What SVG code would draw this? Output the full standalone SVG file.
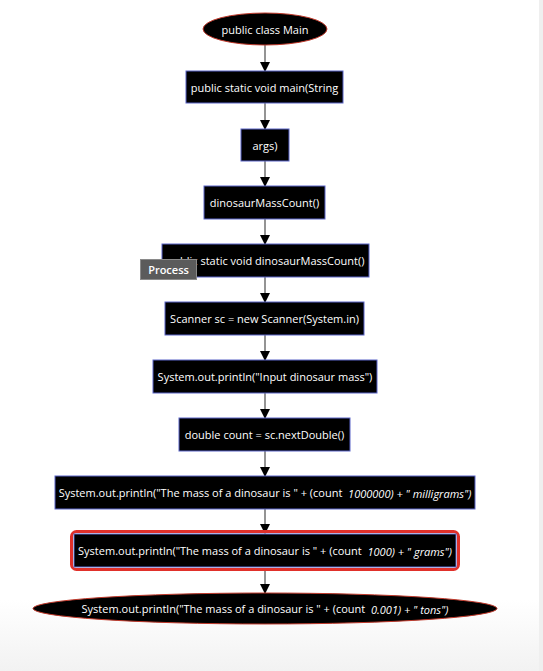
<svg xmlns="http://www.w3.org/2000/svg" width="543" height="671" viewBox="0 0 543 671">
<defs>
<marker id="ah" markerWidth="10" markerHeight="10" refX="9" refY="5" orient="auto" markerUnits="userSpaceOnUse">
<path d="M0,0 L10,5 L0,10 z" fill="#000"/>
</marker>
<linearGradient id="bot" x1="0" y1="0" x2="0" y2="1">
<stop offset="0" stop-color="#ffffff"/>
<stop offset="1" stop-color="#f2f2f2"/>
</linearGradient>
</defs>
<style>
.box{fill:#000;stroke:#5a64c8;stroke-width:1}
.ell{fill:#000;stroke:#c0392b;stroke-width:1}
.t{font-family:"Open Sans","Noto Sans",sans-serif;font-size:11px;fill:#fff;text-anchor:middle;dominant-baseline:central}
.i{font-style:italic}
.c{stroke:#707070;stroke-width:1.5;fill:none}
</style>
<rect width="543" height="671" fill="#fff"/>
<rect x="0" y="600" width="543" height="71" fill="url(#bot)"/>
<rect x="539" y="0" width="4" height="671" fill="#efefef"/>
<g id="connectors">
<line class="c" x1="265" y1="45" x2="265" y2="71" marker-end="url(#ah)"/>
<line class="c" x1="265" y1="103" x2="265" y2="129" marker-end="url(#ah)"/>
<line class="c" x1="265" y1="161" x2="265" y2="186" marker-end="url(#ah)"/>
<line class="c" x1="265" y1="219" x2="265" y2="244" marker-end="url(#ah)"/>
<line class="c" x1="265" y1="277" x2="265" y2="302" marker-end="url(#ah)"/>
<line class="c" x1="265" y1="335" x2="265" y2="360" marker-end="url(#ah)"/>
<line class="c" x1="265" y1="393" x2="265" y2="418" marker-end="url(#ah)"/>
<line class="c" x1="265" y1="451" x2="265" y2="476" marker-end="url(#ah)"/>
<line class="c" x1="265" y1="509" x2="265" y2="533" marker-end="url(#ah)"/>
<line class="c" x1="265" y1="571" x2="265" y2="593" marker-end="url(#ah)"/>
</g>
<g id="n1"><ellipse class="ell" cx="265" cy="29" rx="62" ry="16"/><text class="t" x="265" y="29">public class Main</text></g>
<g id="n2"><rect class="box" x="186" y="71" width="157" height="32"/><text class="t" x="264.5" y="87">public static void main(String</text></g>
<g id="n3"><rect class="box" x="241" y="129" width="48" height="32"/><text class="t" x="265" y="145">args)</text></g>
<g id="n4"><rect class="box" x="204" y="186" width="121" height="33"/><text class="t" x="264.5" y="202.5">dinosaurMassCount()</text></g>
<g id="n5"><rect class="box" x="162" y="244" width="207" height="33"/><text class="t" x="265.5" y="260.5">public static void dinosaurMassCount()</text></g>
<g id="n6"><rect class="box" x="165" y="302" width="199" height="33"/><text class="t" x="264.5" y="318.5">Scanner sc = new Scanner(System.in)</text></g>
<g id="n7"><rect class="box" x="153" y="360" width="224" height="33"/><text class="t" x="265" y="376.5">System.out.println("Input dinosaur mass")</text></g>
<g id="n8"><rect class="box" x="179" y="418" width="171" height="33"/><text class="t" x="264.5" y="434.5">double count = sc.nextDouble()</text></g>
<g id="n9"><rect class="box" x="55" y="476" width="420" height="33"/><text class="t" x="265" y="492.5">System.out.println("The mass of a dinosaur is " + (count&#160;<tspan class="i">&#160;1000000) + " milligrams")</tspan></text></g>
<g id="n10"><rect x="71.5" y="531.5" width="387" height="38" rx="5" fill="none" stroke="#e0302a" stroke-width="3"/><rect class="box" x="74" y="534" width="382" height="33"/><text class="t" x="265" y="550.5">System.out.println("The mass of a dinosaur is " + (count&#160;<tspan class="i">&#160;1000) + " grams")</tspan></text></g>
<g id="n11"><ellipse class="ell" cx="265" cy="608.5" rx="232" ry="15.5"/><text class="t" x="265" y="608.5">System.out.println("The mass of a dinosaur is " + (count&#160;<tspan class="i">&#160;0.001) + " tons")</tspan></text></g>
<g id="tooltip"><rect x="140.5" y="259.5" width="56" height="20" fill="#5b5b5b" stroke="#8a8a8a" stroke-width="1"/><text x="168.5" y="269.5" font-family="'Open Sans','Noto Sans',sans-serif" font-size="11" font-weight="600" fill="#fff" text-anchor="middle" dominant-baseline="central">Process</text></g>
</svg>
